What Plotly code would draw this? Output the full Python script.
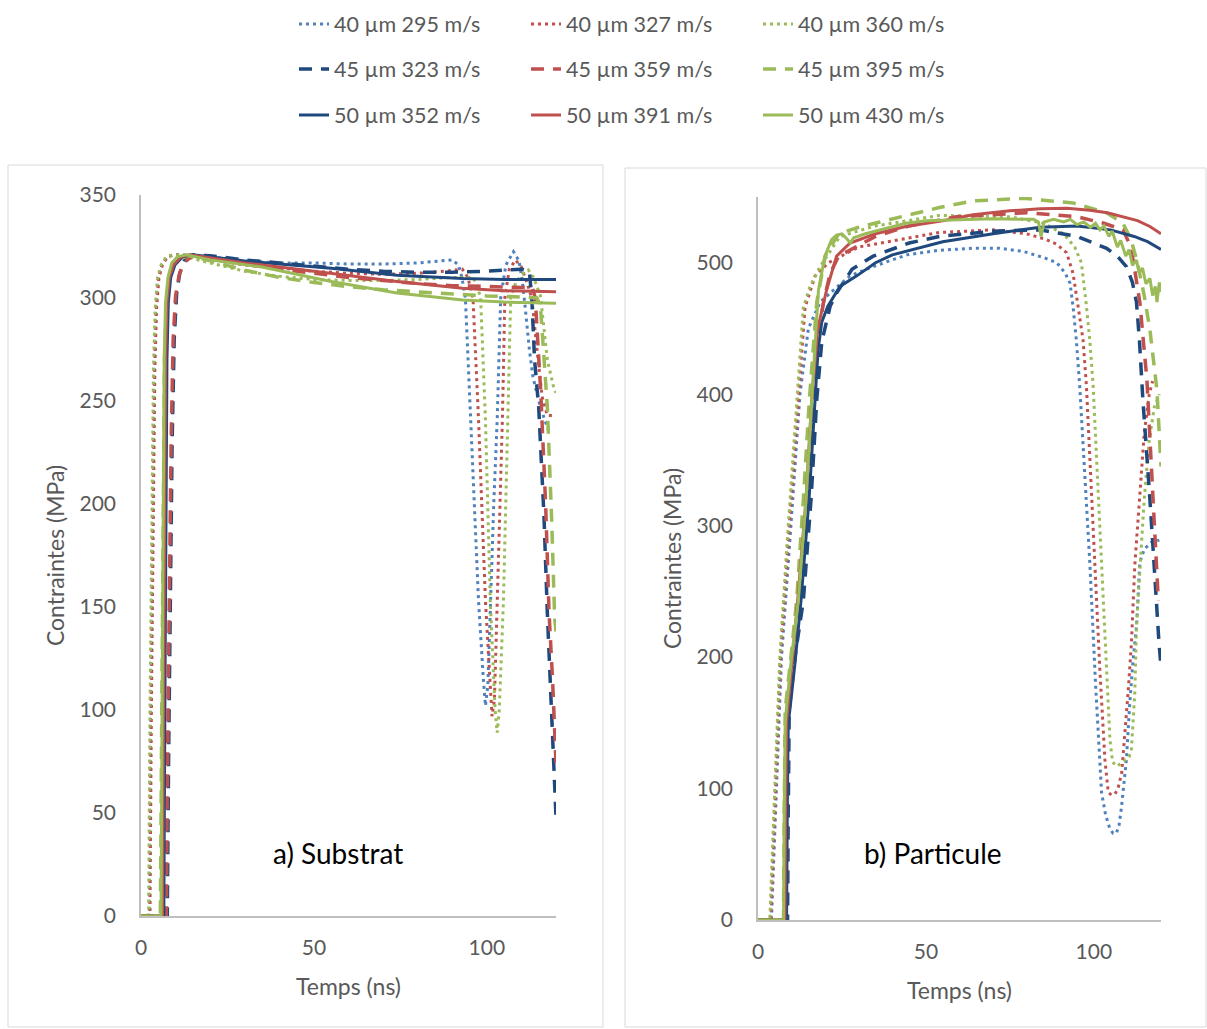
import plotly.graph_objects as go

W, H = 1207, 1029

# ---------------- series meta ----------------
names = ["40 µm 295 m/s", "40 µm 327 m/s", "40 µm 360 m/s",
         "45 µm 323 m/s", "45 µm 359 m/s", "45 µm 395 m/s",
         "50 µm 352 m/s", "50 µm 391 m/s", "50 µm 430 m/s"]

# ---------------- a) Substrat data (time ns, stress MPa) ----------------
sub_t_40_295 = [0, 2.4, 2.8, 3.3, 3.8, 4.3, 5.0, 6.0, 7.5, 9.5, 12, 20, 30, 40, 50, 60, 70, 80, 88, 90, 91.8, 92.8, 93.8, 95.3, 97.6, 99.0, 99.6, 100.3, 101.0, 102.0, 103.0, 104.0, 105.5, 107.7, 109.3, 110.3, 111.3, 112.3, 113.3, 115.0, 116.5, 118.0]
sub_v_40_295 = [0, 0, 100, 200, 265, 295, 310, 316, 320, 321, 321, 320, 318, 317, 317, 316.5, 316.5, 317, 318, 318.5, 316, 310, 300, 241, 153, 115, 102, 112, 153, 200, 241, 300, 316, 322.5, 318, 308, 292, 275, 262, 250, 242, 235]

sub_t_40_327 = [0, 2.6, 3.0, 3.5, 4.0, 4.5, 5.2, 6.2, 7.7, 10, 13, 20, 30, 40, 50, 60, 70, 80, 88, 92.9, 94.5, 96.0, 97.6, 99.6, 101.0, 101.5, 102.2, 103.0, 104.5, 105.2, 106.5, 108.3, 110.0, 111.5, 113.0, 114.5, 116.0, 117.5, 119.0]
sub_v_40_327 = [0, 0, 100, 200, 265, 295, 310, 316, 320, 321, 320.5, 319, 316, 314.5, 313, 312, 311.5, 312, 313, 314, 310, 300, 241, 153, 110, 97, 105, 153, 241, 300, 314, 318.4, 315, 308, 300, 275, 252, 243, 243]

sub_t_40_360 = [0, 2.2, 2.6, 3.1, 3.6, 4.1, 4.8, 5.8, 7.3, 9.5, 12, 20, 30, 40, 50, 60, 70, 80, 90, 96, 97.2, 98.2, 99.6, 101.0, 102.4, 103.0, 103.6, 104.8, 106.0, 106.9, 108.5, 110.5, 112.0, 113.5, 115.5, 117.5, 119.4, 120]
sub_v_40_360 = [0, 0, 100, 200, 265, 295, 310, 316, 320, 321, 320.5, 317, 313, 310.5, 309, 308.5, 308.5, 309, 310, 310, 306, 300, 241, 153, 100, 89, 100, 153, 241, 300, 308, 312, 313.6, 310, 301, 270, 256, 254]

sub_t_45_323 = [0, 7.6, 8.0, 8.4, 9.0, 9.6, 10.3, 11.2, 12.5, 15, 20, 30, 40, 50, 60, 70, 80, 90, 100, 110, 112.3, 113.0, 113.8, 115.0, 116.5, 117.5, 118.8, 120]
sub_v_45_323 = [0, 0, 80, 150, 230, 280, 302, 312, 318, 321, 320.5, 318.5, 317, 315.5, 314, 313, 312.5, 312.5, 313, 314, 313, 300, 270, 247, 195, 147, 97, 48]

sub_t_45_359 = [0, 7.3, 7.7, 8.1, 8.7, 9.3, 10.0, 11, 12.3, 15, 20, 30, 40, 50, 60, 70, 80, 90, 100, 110, 113.2, 114.0, 115.6, 117.0, 118.0, 119.0, 120]
sub_v_45_359 = [0, 0, 80, 150, 230, 280, 301, 311, 317, 320.5, 319.5, 316.5, 314, 312, 310, 308.5, 307, 306, 305.5, 305, 305, 300, 254, 200, 147, 115, 74]

sub_t_45_395 = [0, 5.6, 6.0, 6.4, 6.8, 7.4, 8.5, 10.5, 14, 20, 30, 40, 50, 60, 70, 80, 90, 100, 110, 114.5, 115.5, 117.5, 118.8, 119.6, 120]
sub_v_45_395 = [0, 0, 100, 200, 270, 300, 313, 319, 320.5, 318, 313.5, 310, 307.5, 305.5, 304, 303, 302, 301, 300.5, 300, 296, 247, 190, 145, 138]

sub_t_50_352 = [0, 6.6, 6.9, 7.2, 7.5, 7.9, 8.6, 9.8, 12, 15, 20, 30, 40, 55, 74, 93, 105, 120]
sub_v_50_352 = [0, 0, 100, 200, 270, 298, 310, 316, 320, 321, 320, 318, 316.5, 314.4, 311, 309.5, 309, 309]

sub_t_50_391 = [0, 6.2, 6.5, 6.8, 7.1, 7.5, 8.2, 9.4, 11.5, 14, 20, 30, 40, 55, 74, 93, 105, 120]
sub_v_50_391 = [0, 0, 100, 200, 270, 298, 310, 316, 320, 321, 319.5, 317, 315, 312, 308, 304.7, 303.5, 303]

sub_t_50_430 = [0, 5.8, 6.1, 6.4, 6.7, 7.1, 7.8, 8.9, 10.5, 13, 20, 35, 55, 74, 93, 105, 120]
sub_v_50_430 = [0, 0, 100, 200, 270, 298, 310, 317, 320, 321, 318.5, 315, 308, 302.4, 299, 298, 297.5]

# ---------------- b) Particule data (time ns, stress MPa) ----------------
par_t_40_295 = [0, 4.0, 5.5, 7.0, 9.8, 12.5, 15, 18.5, 22.4, 27.4, 34.2, 44.3, 54, 64, 72, 79, 85, 89, 91.5, 92.9, 93.8, 94.8, 95.8, 97.3, 98.8, 100.5, 101.5, 102.3, 103.5, 104.7, 105.7, 106.7, 107.5, 108.2, 109.7, 110.7, 111.7, 112.7, 113.7, 115.0, 117.0, 119.5]
par_v_40_295 = [0, 0, 100, 200, 300, 400, 450, 470, 479, 490, 497, 506, 509.5, 511, 511, 508.6, 504, 500, 492, 484.5, 467, 441, 406, 340, 272, 180, 130, 97, 80, 70, 66, 66, 72, 85, 122, 165, 198, 223, 272, 282, 287, 289]

par_t_40_327 = [0, 3.8, 5.2, 6.7, 9.3, 12, 14, 17, 21, 30, 45, 54, 70, 80, 86, 89, 91.9, 93.8, 95.3, 96.8, 97.8, 99.0, 100.3, 101.8, 103.3, 104.3, 105.3, 106.3, 107.2, 108.3, 110.2, 111.2, 112.2, 113.5, 115.0, 116.5, 117.5]
par_v_40_327 = [0, 0, 100, 200, 300, 400, 466, 490, 500, 512, 519, 523, 525, 522, 517.5, 514, 507.6, 492, 467, 441, 406, 340, 272, 190, 122, 97, 95, 96, 100, 112, 173, 211, 270, 320, 370, 400, 410]

par_t_40_360 = [0, 3.5, 5.0, 6.5, 9.0, 11.8, 13.5, 15.5, 18.5, 24.4, 35, 54, 75, 85, 91, 94.3, 96.3, 97.8, 98.8, 99.8, 101.0, 102.3, 103.8, 104.8, 105.6, 107.0, 108.5, 110.5, 111.2, 112.2, 112.7, 113.7, 115.0, 116.5, 118.0, 119.5]
par_v_40_360 = [0, 0, 100, 200, 300, 400, 466, 482, 497, 520, 528, 536, 535, 530, 522, 512, 500, 467, 441, 406, 340, 270, 185, 137, 120, 117, 120, 124, 130, 173, 223, 266, 320, 365, 390, 400]

par_t_45_323 = [0, 8.8, 9.0, 9.3, 11, 13.5, 15.8, 17.5, 19, 21.5, 23.4, 28, 34.3, 45, 54, 70, 84, 95, 103.8, 107, 109.7, 111.5, 112.7, 113.6, 114.6, 115.7, 116.7, 117.7, 118.5, 119.3, 120]
par_v_45_323 = [0, 0, 80, 160, 200, 243, 320, 396, 440, 467, 477, 495, 505, 515, 520, 524, 525, 520, 511, 505, 497, 485, 470, 440, 396, 360, 320, 280, 243, 215, 192]

par_t_45_359 = [0, 8.4, 8.6, 8.9, 10.5, 12.5, 14.8, 16.5, 18, 19.5, 21.5, 24, 35, 45, 59, 80, 95, 103, 108.7, 110.5, 111.7, 113.7, 115.8, 117.0, 118.0, 119.2]
par_v_45_359 = [0, 0, 80, 160, 200, 243, 320, 396, 445, 470, 492, 505, 520, 528, 535, 538, 535, 530, 525, 515, 502, 470, 411, 350, 300, 243]

par_t_45_395 = [0, 7.6, 7.8, 8.1, 9.8, 11.5, 13.5, 15.3, 17.5, 20, 24, 30, 36.3, 54, 64, 79, 93.8, 103.8, 108.7, 111, 113, 115, 116.7, 118.8, 120]
par_v_45_395 = [0, 0, 80, 160, 200, 243, 320, 396, 470, 505, 522, 527, 531, 542, 547, 549, 545.5, 538, 530, 518, 500, 475, 449, 403, 345]

par_t_50_352 = [0, 8.5, 8.7, 9.0, 9.5, 11, 12.8, 15.2, 17, 17.9, 19, 20.8, 24.4, 29.4, 35, 40, 55, 70, 84, 95, 105, 112, 116, 120]
par_v_50_352 = [0, 0, 80, 150, 160, 195, 243, 320, 396, 434, 455, 467, 482, 490, 500, 506, 516, 522, 527, 528, 525, 520, 516, 510]

par_t_50_391 = [0, 8.0, 8.2, 8.5, 9.0, 10.3, 11.8, 14.3, 16, 17.8, 20.4, 23.4, 27.4, 35, 44, 55, 64, 75, 84, 92, 98.8, 104, 108.7, 113, 116.7, 120]
par_v_50_391 = [0, 0, 80, 150, 165, 200, 243, 320, 396, 450, 479, 505, 515, 522, 527.6, 532, 536.5, 539.5, 541, 541.5, 540, 538, 535, 532, 527.6, 522]

par_t_50_430 = [0, 7.6, 7.8, 8.1, 8.6, 10, 12, 14.3, 16, 18, 19.9, 21.9, 23.4, 25, 26.5, 27.5, 28.5, 32, 38, 44, 50, 60, 70, 78, 82, 83.5, 84.3, 85.2, 88, 91, 93, 95, 97, 99, 100.5, 101.8, 103, 104.5, 105.5, 107, 108, 109.5, 110.5, 111.5, 112.7, 113.5, 114.5, 115.5, 116.7, 117.5, 118.3, 118.8, 119.5, 120]
par_v_50_430 = [0, 0, 80, 150, 165, 200, 243, 320, 396, 479, 505, 517.5, 521, 522, 518, 515, 519, 522, 526, 530, 532, 533, 533.5, 533, 533, 531, 520, 531, 533, 531, 533, 529, 531, 527, 530, 525, 528, 520, 524, 512, 517, 505, 510, 498, 502, 492, 496, 484, 488, 475, 482, 470, 485, 478]

sub_t = [sub_t_40_295, sub_t_40_327, sub_t_40_360, sub_t_45_323, sub_t_45_359, sub_t_45_395, sub_t_50_352, sub_t_50_391, sub_t_50_430]
sub_v = [sub_v_40_295, sub_v_40_327, sub_v_40_360, sub_v_45_323, sub_v_45_359, sub_v_45_395, sub_v_50_352, sub_v_50_391, sub_v_50_430]
par_t = [par_t_40_295, par_t_40_327, par_t_40_360, par_t_45_323, par_t_45_359, par_t_45_395, par_t_50_352, par_t_50_391, par_t_50_430]
par_v = [par_v_40_295, par_v_40_327, par_v_40_360, par_v_45_323, par_v_45_359, par_v_45_395, par_v_50_352, par_v_50_391, par_v_50_430]

x_ticks = [0, 50, 100]
sub_y_ticks = [0, 50, 100, 150, 200, 250, 300, 350]
par_y_ticks = [0, 100, 200, 300, 400, 500]

# ---------------- styles ----------------
colors = ["#4F81BD", "#C0504D", "#9BBB59",
          "#1F497D", "#C0504D", "#9BBB59",
          "#1F497D", "#C0504D", "#9BBB59"]
dashes = ["3px,4px"] * 3 + ["13px,9px"] * 3 + ["solid"] * 3
widths = [3, 3, 3, 3.5, 3.5, 3.5, 3, 3, 3]
legend_ids = ["legend", "legend", "legend", "legend2", "legend2", "legend2", "legend3", "legend3", "legend3"]

FONT = "Lato"
GREY = "#595959"

fig = go.Figure()
for i, name in enumerate(names):
    fig.add_trace(go.Scatter(x=sub_t[i], y=sub_v[i], mode="lines", name=name,
                             line=dict(color=colors[i], width=widths[i], dash=dashes[i]),
                             xaxis="x", yaxis="y", legend=legend_ids[i], showlegend=True))
for i, name in enumerate(names):
    fig.add_trace(go.Scatter(x=par_t[i], y=par_v[i], mode="lines", name=name,
                             line=dict(color=colors[i], width=widths[i], dash=dashes[i]),
                             xaxis="x2", yaxis="y2", showlegend=False))

def px(xp):
    return xp / W

def py(yp):
    return 1 - yp / H

axis_common = dict(showgrid=False, zeroline=False, showline=True, linecolor="#BFBFBF", linewidth=1.5,
                   ticks="outside", tickcolor="rgba(0,0,0,0)", automargin=False,
                   tickfont=dict(family=FONT, size=21, color=GREY))
title_font = dict(family=FONT, size=23, color=GREY)

fig.update_layout(
    width=W, height=H,
    margin=dict(l=0, r=0, t=0, b=0, autoexpand=False),
    paper_bgcolor="white", plot_bgcolor="white",
    font=dict(family=FONT, color=GREY),
    xaxis=dict(domain=[px(141), px(556)], range=[0, 120], tickvals=x_ticks, ticklen=12,
               anchor="y", title=dict(text="Temps (ns)", font=title_font, standoff=21),
               **axis_common),
    yaxis=dict(domain=[py(916), py(195)], range=[0, 350], tickvals=sub_y_ticks, ticklen=19,
               anchor="x", title=dict(text="Contraintes (MPa)", font=title_font, standoff=8),
               **axis_common),
    xaxis2=dict(domain=[px(758), px(1161)], range=[0, 120], tickvals=x_ticks, ticklen=12,
                anchor="y2", title=dict(text="Temps (ns)", font=title_font, standoff=21),
                **axis_common),
    yaxis2=dict(domain=[py(920), py(197)], range=[0, 550], tickvals=par_y_ticks, ticklen=19,
                anchor="x2", title=dict(text="Contraintes (MPa)", font=title_font, standoff=8),
                **axis_common),
)

leg_common = dict(orientation="h", xanchor="left", yanchor="middle", entrywidth=187,
                  font=dict(family=FONT, size=21.5, color=GREY), bgcolor="rgba(0,0,0,0)",
                  itemwidth=30, tracegroupgap=0)
fig.update_layout(
    legend=dict(x=px(294), y=py(24), **leg_common),
    legend2=dict(x=px(294), y=py(69), **leg_common),
    legend3=dict(x=px(294), y=py(115), **leg_common),
)

# chart-area borders
for x0, x1, y0 in [(8, 603, 165), (625, 1206, 168)]:
    fig.add_shape(type="rect", xref="paper", yref="paper",
                  x0=px(x0), x1=px(x1), y0=py(1027), y1=py(y0),
                  line=dict(color="#D9D9D9", width=1), fillcolor="rgba(0,0,0,0)", layer="below")

fig.add_annotation(x=57, y=30.5, xref="x", yref="y", text="a) Substrat", showarrow=False,
                   font=dict(family=FONT, size=28, color="#000000"))
fig.add_annotation(x=52, y=51, xref="x2", yref="y2", text="b) Particule", showarrow=False,
                   font=dict(family=FONT, size=28, color="#000000"))

fig.write_html("out.html", config={"displayModeBar": False},
               post_script="document.body.style.margin='0';document.body.style.overflow='hidden';")
